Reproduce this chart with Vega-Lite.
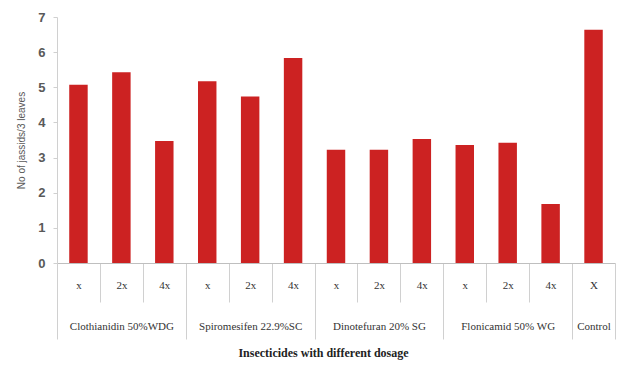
{
  "$schema": "https://vega.github.io/schema/vega-lite/v6.json",
  "width": 558,
  "height": 246,
  "autosize": {"type": "none"},
  "padding": {"left": 57, "top": 17, "right": 2, "bottom": 109},
  "background": "white",
  "config": {"view": {"stroke": null}},
  "data": {
    "values": [
      {"group": "Clothianidin 50%WDG", "dosage": "x", "cat": "Clothianidin 50%WDG|x", "jassids": 5.07},
      {"group": "Clothianidin 50%WDG", "dosage": "2x", "cat": "Clothianidin 50%WDG|2x", "jassids": 5.43},
      {"group": "Clothianidin 50%WDG", "dosage": "4x", "cat": "Clothianidin 50%WDG|4x", "jassids": 3.47},
      {"group": "Spiromesifen 22.9%SC", "dosage": "x", "cat": "Spiromesifen 22.9%SC|x", "jassids": 5.17},
      {"group": "Spiromesifen 22.9%SC", "dosage": "2x", "cat": "Spiromesifen 22.9%SC|2x", "jassids": 4.74},
      {"group": "Spiromesifen 22.9%SC", "dosage": "4x", "cat": "Spiromesifen 22.9%SC|4x", "jassids": 5.83},
      {"group": "Dinotefuran 20% SG", "dosage": "x", "cat": "Dinotefuran 20% SG|x", "jassids": 3.22},
      {"group": "Dinotefuran 20% SG", "dosage": "2x", "cat": "Dinotefuran 20% SG|2x", "jassids": 3.22},
      {"group": "Dinotefuran 20% SG", "dosage": "4x", "cat": "Dinotefuran 20% SG|4x", "jassids": 3.53},
      {"group": "Flonicamid 50% WG", "dosage": "x", "cat": "Flonicamid 50% WG|x", "jassids": 3.36},
      {"group": "Flonicamid 50% WG", "dosage": "2x", "cat": "Flonicamid 50% WG|2x", "jassids": 3.42},
      {"group": "Flonicamid 50% WG", "dosage": "4x", "cat": "Flonicamid 50% WG|4x", "jassids": 1.68},
      {"group": "Control", "dosage": "X", "cat": "Control|X", "jassids": 6.64}
    ]
  },
  "mark": {"type": "bar", "color": "#cc2222", "width": {"band": 0.43}},
  "encoding": {
    "x": {
      "field": "cat",
      "type": "nominal",
      "sort": null,
      "scale": {"paddingInner": 0, "paddingOuter": 0},
      "axis": {
        "title": "Insecticides with different dosage",
        "titleFont": "Liberation Serif",
        "titleFontWeight": "bold",
        "titleFontSize": 12,
        "titleColor": "#222222",
        "titlePadding": 8,
        "titleX": 266,
        "labelAngle": 0,
        "labelFont": "Liberation Serif",
        "labelFontSize": 11,
        "labelColor": "#333333",
        "labelLineHeight": 41,
        "labelOverlap": false,
        "labelBound": false,
        "labelPadding": {"condition": {"test": "datum.extra || split(datum.value,'|')[1]=='4x' || split(datum.value,'|')[1]=='X'", "value": -60}, "value": -23},
        "labelExpr": "[split(datum.value,'|')[1], (split(datum.value,'|')[1]=='2x' || split(datum.value,'|')[1]=='X') ? split(datum.value,'|')[0] : '']",
        "tickBand": "extent",
        "tickColor": "#d0d0d0",
        "tickSize": {"condition": {"test": "datum.extra || split(datum.value,'|')[1]=='4x' || split(datum.value,'|')[1]=='X'", "value": 76}, "value": 39},
        "domainColor": "#bfbfbf"
      }
    },
    "y": {
      "field": "jassids",
      "type": "quantitative",
      "scale": {"domain": [0, 7]},
      "axis": {
        "title": "No of jassids/3 leaves",
        "titleFont": "Liberation Sans",
        "titleFontSize": 10,
        "titleFontWeight": "normal",
        "titleColor": "#595959",
        "titlePadding": 11,
        "labelFont": "Liberation Sans",
        "labelFontSize": 13,
        "labelFontWeight": "bold",
        "labelColor": "#595959",
        "labelPadding": 8,
        "values": [0, 1, 2, 3, 4, 5, 6, 7],
        "grid": false,
        "domainColor": "#d0d0d0",
        "tickColor": "#d0d0d0",
        "tickSize": 4
      }
    }
  }
}
